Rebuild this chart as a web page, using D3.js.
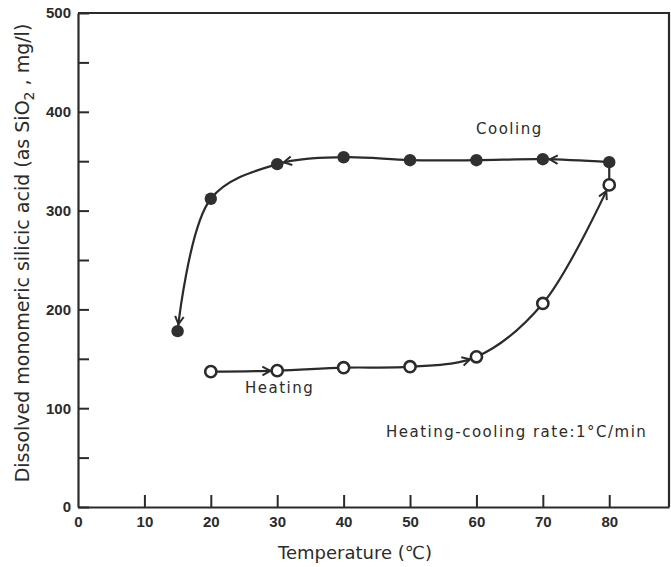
<!DOCTYPE html>
<html>
<head>
<meta charset="utf-8">
<script src="https://cdn.jsdelivr.net/npm/d3@7"></script>
<style>
  body { margin: 0; background: #fff; }
  svg { display: block; }
</style>
</head>
<body>
<div id="chart"></div>
<script>
// data
const coolingTemp = [80, 70, 60, 50, 40, 30, 20, 15];
const coolingSilica = [349, 352, 351, 351, 354, 347, 312, 178];
const heatingTemp = [20, 30, 40, 50, 60, 70, 80];
const heatingSilica = [137, 138, 141, 142, 152, 206, 326];
const xTicks = [0, 10, 20, 30, 40, 50, 60, 70, 80];
const yTicks = [0, 50, 100, 150, 200, 250, 300, 350, 400, 450, 500];

const width = 671, height = 567;
const ink = "#2b2b2b";

const svg = d3.select("#chart")
  .append("svg")
  .attr("width", width)
  .attr("height", height)
  .style("font-family", "'DejaVu Sans', sans-serif");

// scales
const x = d3.scaleLinear().domain([0, 89]).range([78, 669]);
const y = d3.scaleLinear().domain([0, 500]).range([507, 13]);

// axes (ticks point inward)
const yAxis = svg.append("g")
  .attr("transform", `translate(${x(0)},0)`)
  .call(d3.axisLeft(y)
    .tickValues(yTicks)
    .tickSizeInner(-11)
    .tickSizeOuter(0)
    .tickPadding(7)
    .tickFormat(d => d % 100 === 0 ? d : ""));

const xAxis = svg.append("g")
  .attr("transform", `translate(0,${y(0)})`)
  .call(d3.axisBottom(x)
    .tickValues(xTicks)
    .tickSizeInner(-12)
    .tickSizeOuter(0)
    .tickPadding(9)
    .tickFormat(d => d));

[yAxis, xAxis].forEach(a => {
  a.select(".domain").attr("stroke", ink).attr("stroke-width", 2.2);
  a.selectAll(".tick line").attr("stroke", ink).attr("stroke-width", 2);
  a.selectAll(".tick text")
    .attr("fill", ink)
    .style("font-size", "15px")
    .style("font-weight", "bold");
});
xAxis.selectAll(".tick").filter(d => d === 0).select("line").remove();

// frame top and right
svg.append("path")
  .attr("d", `M${x(0)},${y(500)}H${x(89)}V${y(0)}`)
  .attr("fill", "none")
  .attr("stroke", ink)
  .attr("stroke-width", 2.2);

// axis titles
svg.append("text")
  .attr("x", 355)
  .attr("y", 559)
  .attr("text-anchor", "middle")
  .attr("fill", ink)
  .style("font-size", "18px")
  .text("Temperature (℃)");

const yTitle = svg.append("text")
  .attr("transform", "translate(29,253) rotate(-90)")
  .attr("text-anchor", "middle")
  .attr("fill", ink)
  .style("font-size", "19px");
yTitle.append("tspan").text("Dissolved monomeric silicic acid  (as SiO");
yTitle.append("tspan").attr("dy", 5).style("font-size", "14px").text("2");
yTitle.append("tspan").attr("dy", -5).text(" , mg/l)");

// series
const heating = heatingTemp.map((t, i) => [x(t), y(heatingSilica[i])]);
const cooling = coolingTemp.map((t, i) => [x(t), y(coolingSilica[i])]);
const line = d3.line().curve(d3.curveCatmullRom.alpha(0.5));

const heatPath = svg.append("path")
  .attr("d", line(heating))
  .attr("fill", "none").attr("stroke", ink).attr("stroke-width", 2.2);
svg.append("path")
  .attr("d", d3.line()([heating[heating.length - 1], cooling[0]]))
  .attr("fill", "none").attr("stroke", ink).attr("stroke-width", 2.2);
const coolPath = svg.append("path")
  .attr("d", line(cooling))
  .attr("fill", "none").attr("stroke", ink).attr("stroke-width", 2.2);

// arrowheads: open chevrons touching the marker, aligned with the curve
const r = 6.5;
function addArrow(pathSel, target, len = 9, spread = 0.5) {
  const node = pathSel.node();
  const total = node.getTotalLength();
  const pts = [];
  for (let s = 0; s <= total; s += 0.5) {
    const p = node.getPointAtLength(s);
    pts.push([p.x, p.y]);
  }
  const dist = p => Math.hypot(p[0] - target[0], p[1] - target[1]);
  let idx = d3.minIndex(pts, dist);
  while (idx > 0 && dist(pts[idx]) < r) idx--;
  const tip = pts[idx];
  while (idx > 0 && dist(pts[idx]) < r + len) idx--;
  const tail = pts[idx];
  const a = Math.atan2(tip[1] - tail[1], tip[0] - tail[0]);
  const w1 = [tip[0] - len * Math.cos(a - spread), tip[1] - len * Math.sin(a - spread)];
  const w2 = [tip[0] - len * Math.cos(a + spread), tip[1] - len * Math.sin(a + spread)];
  svg.append("path")
    .attr("d", `M${w1}L${tip}L${w2}`)
    .attr("fill", "none")
    .attr("stroke", ink)
    .attr("stroke-width", 2)
    .attr("stroke-linejoin", "miter");
}
[1, 4, 6].forEach(i => addArrow(heatPath, heating[i]));
[1, 5, 7].forEach(i => addArrow(coolPath, cooling[i]));

// markers
svg.append("g").selectAll("circle")
  .data(cooling)
  .enter()
  .append("circle")
  .attr("cx", d => d[0]).attr("cy", d => d[1])
  .attr("r", 6.2)
  .attr("fill", "#303030");

svg.append("g").selectAll("circle")
  .data(heating)
  .enter()
  .append("circle")
  .attr("cx", d => d[0]).attr("cy", d => d[1])
  .attr("r", 5.6)
  .attr("fill", "#fff")
  .attr("stroke", ink)
  .attr("stroke-width", 2.6);

// annotations
const note = (tx, ty, s) => svg.append("text")
  .attr("x", tx).attr("y", ty)
  .attr("fill", ink)
  .style("font-size", "15px")
  .style("letter-spacing", "1.5px")
  .text(s);
note(476, 134, "Cooling");
note(245, 393, "Heating");
note(386, 437, "Heating-cooling rate:1°C/min");
</script>
</body>
</html>
